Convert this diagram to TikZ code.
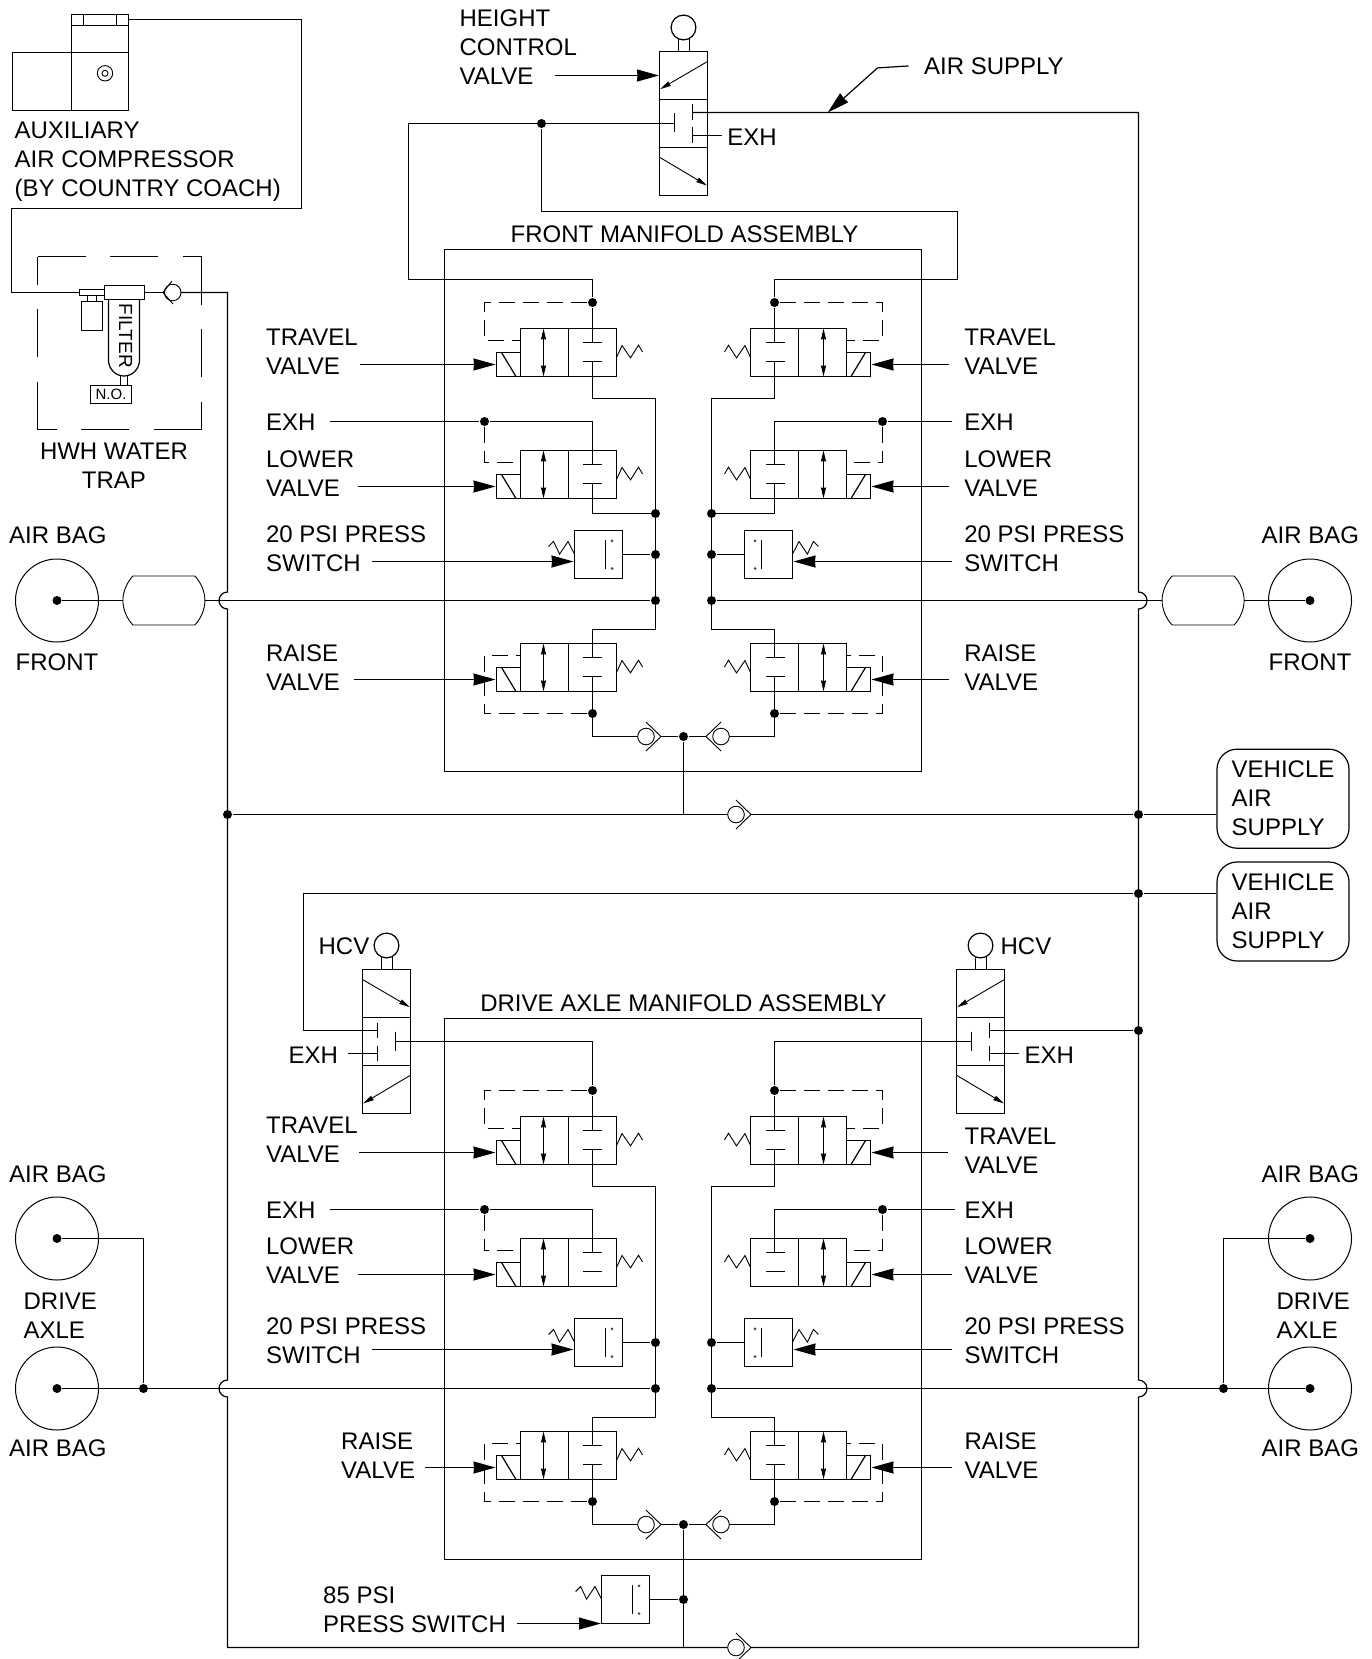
\documentclass[tikz,border=0pt]{standalone}
\usepackage{fontspec}
\setmainfont{Liberation Sans}
\usetikzlibrary{arrows.meta}

\tikzset{
	lbl/.style={font=\fontsize{24}{29}\selectfont, anchor=base west, inner sep=0pt, align=left},
	lblc/.style={lbl, anchor=base, align=center},
	jdot/.style={circle, fill=black, inner sep=0pt, minimum size=9pt},
	bagc/.style={circle, draw, line width=1pt, inner sep=0pt, minimum size=83pt},
	vbox/.style={draw, rounded corners=20pt, minimum width=132pt, minimum height=99pt, inner sep=0pt,
		font=\fontsize{24}{29}\selectfont, align=left},
	ctl/.style={-{Stealth[length=22pt,width=12pt,inset=0.5pt]}},
	dsh/.style={line width=1pt, dash pattern=on 16pt off 8pt},
	dshbox/.style={line width=1pt, dash pattern=on 48pt off 24.5pt},
	thn/.style={line width=0.9pt},
	dblarrow/.style={thn, {Stealth[length=11pt,width=5pt,inset=0.5pt]}-{Stealth[length=11pt,width=5pt,inset=0.5pt]}},
	sglarrow/.style={thn, -{Stealth[length=11pt,width=5pt,inset=0.5pt]}},
	% two cell air valve with solenoid, origin in the port cell
	valve/.pic={
		\draw (-24,-24) rectangle (24,24);
		\draw (-72,-24) rectangle (-24,24);
		\draw (-96,0) rectangle (-72,24);
		\draw[line width=1.8pt] (-24,-24) -- (-24,24);
		\draw (-91,0) -- (-76.5,24);
		\draw[dblarrow] (-49,-24) -- (-49,24);
		\draw (-10,-10) -- (9,-10);
		\draw (-10,9) -- (9,9);
		\draw[thn] (24,5) -- (29.5,-7) -- (38,5.4) -- (46,-7.3) -- (50,-0.6);
		\coordinate (-up) at (0,-10);
		\coordinate (-lo) at (0,9);
		\coordinate (-p) at (-72,-12);
		\coordinate (-a) at (-97,12);
	},
	pswitch/.pic={
		\draw (-24,-24) rectangle (24,24);
		\draw (7,-14.7) -- (7,14.6);
		\fill[black!70] (13.5,-13.7) circle (1.5pt) (13.5,14) circle (1.5pt);
		\draw[thn] (-49.9,-8) -- (-44.9,-13) -- (-38.9,-0.4) -- (-30.5,-13) -- (-24,-0.4);
		\coordinate (-e) at (24,0);
		\coordinate (-a) at (-25,7);
		\coordinate (-c) at (-24.6,24);
	},
	chkv/.pic={
		\draw[thn] (0,0) circle (8.3pt);
		\draw[thn] (0,-14.5) -- (15,0) -- (0,14.5);
		\coordinate (-in) at (-8.3,0);
		\coordinate (-out) at (15,0);
	},
	% height control valve, origin in the middle cell
	hcv/.pic={
		\draw (-24,-72) rectangle (24,72);
		\draw (-24,-24) -- (24,-24) (-24,24) -- (24,24);
		\draw (0,-96) circle (12.4pt);
		\draw[thn] (-5.5,-84.5) -- (-5.5,-72) (5.5,-84.5) -- (5.5,-72);
		\draw[sglarrow] (24,-62) -- (-23.5,-34.3);
		\draw[sglarrow] (-23.5,34) -- (23.5,62);
		\draw[thn] (-9,-10) -- (-9,9);
		\draw[thn] (9,-19) -- (9,-3.5) (9,4) -- (9,19.5);
		\draw[thn] (9,12) -- (38.4,12);
		\coordinate (-pl) at (-9,0);
		\coordinate (-pr) at (9,-11);
		\coordinate (-a) at (-24.5,-48);
	},
	tank/.pic={
		\draw[thn] (-31,-24.5) -- (31,-24.5) .. controls (37,-18) and (41,-9) .. (41,0)
			.. controls (41,9) and (37,18) .. (31,24.5) -- (-31,24.5)
			.. controls (-37,18) and (-41,9) .. (-41,0) .. controls (-41,-9) and (-37,-18) .. (-31,-24.5);
		\coordinate (-w) at (-41,0);
		\coordinate (-e) at (41,0);
	},
}

% one half of a manifold, drawn for the left side, #2 goes to its pics
\newcommand{\halfmf}[2]{
	\pic[#2] (#1t) at (592.5,352.5) {valve};
	\pic[#2] (#1l) at (592.5,474.5) {valve};
	\pic[#2] (#1r) at (592.5,667.5) {valve};
	\pic[#2] (#1s) at (598.5,554.5) {pswitch};
	\pic[#2] (#1c) at (646,736.5) {chkv};
	\node[jdot] (#1d1) at (592.5,302.5) {};
	\node[jdot] (#1d2) at (484.5,421.5) {};
	\node[jdot] (#1d3) at (655.5,554.5) {};
	\node[jdot] (#1d4) at (655.5,600.5) {};
	\node[jdot] (#1d5) at (592.5,713.5) {};
	\coordinate (#1tp) at (592.5,279.5);
	\coordinate (#1j) at (655.5,513.5);
	\draw[dsh] (#1d1) -- (484.5,302.5) |- (#1t-p);
	\draw[dsh] (#1d2) |- (#1l-p);
	\draw[dsh] (#1d5) -- (484.5,713.5) |- (#1r-p);
	\draw (#1d1) -- (#1t-up);
	\draw (#1d2) -| (#1l-up);
	\draw (#1t-lo) |- (655.5,398.5) -- (655.5,629.5) -| (#1r-up);
	\draw (#1r-lo) |- (#1c-in);
	\draw (#1s-e) -- (#1d3);
}

% whole manifold, #1 is its tag, #2 the shift
\newcommand{\mnfold}[2]{
	\begin{scope}[yshift=#2]
		\halfmf{#1l}{}
		\node[jdot] (#1tee) at (683.5,736.5) {};
	\end{scope}
	\begin{scope}[yshift=#2, shift={(1367,0)}, xscale=-1]
		\halfmf{#1r}{xscale=-1}
	\end{scope}
	\draw (#1lc-out) -- (#1tee);
	\draw (#1tee) -- (#1rc-out);
}

\begin{document}
\begin{tikzpicture}[x=1pt, y=-1pt, line width=1.2pt]
	\useasboundingbox (0,0) rectangle (1372,1659);

	% auxiliary compressor
	\draw (71.5,14.5) rectangle (128.5,110.5);
	\draw (71.5,25.5) -- (128.5,25.5) (83.5,14.5) -- (83.5,25.5) (116.5,14.5) -- (116.5,25.5);
	\draw (12.5,52.5) rectangle (71.5,110.5);
	\draw (71.5,52.5) -- (128.5,52.5);
	\draw[thn] (105,73.3) circle (7.7pt) (105,73.3) circle (3pt);
	\coordinate (cmpout) at (128.5,19.5);
	\node[lbl] (auxc) at (14,196) {AUXILIARY\\AIR COMPRESSOR\\(BY COUNTRY COACH)};

	% water trap
	\draw[dshbox] (37.5,429.5) -- (37.5,256.5);
	\draw[dshbox] (37.5,256.5) -- (201.5,256.5);
	\draw[dshbox] (201.5,256.5) -- (201.5,429.5);
	\draw[dshbox] (201.5,429.5) -- (37.5,429.5);
	\draw (79.5,289.5) rectangle (104.5,295.5);
	\draw (87.5,295.5) rectangle (96.5,301.5);
	\draw (81.5,301.5) rectangle (102.5,330.5);
	\draw (104.5,285.5) rectangle (144.5,299.5);
	\draw (108.5,299.5) -- (108.5,360) arc[start angle=180,end angle=360,x radius=15.5pt,y radius=16pt] -- (139.5,299.5);
	\draw[thn] (120.5,376) -- (120.5,385.5) (127.5,376) -- (127.5,385.5);
	\node[draw, thn, minimum width=40.6pt, minimum height=17.6pt, inner sep=0pt, font=\fontsize{15}{15}\selectfont] (nopen) at (111,394.5) {N.O.};
	\node[font=\fontsize{19}{19}\selectfont, rotate=-90, inner sep=0pt] (filt) at (125.7,335.7) {FILTER};
	\node[lblc] (hwh) at (114,488.6) {HWH WATER\\TRAP};
	\coordinate (regin) at (79.5,292.5);
	\coordinate (filout) at (144.5,292.5);
	\coordinate (trapin) at (163,292.5);
	\coordinate (trapout) at (181,292.5);
	\draw[thn] (172.7,292.5) circle (8.3pt);
	\draw[thn] (172,281) -- (trapin) -- (173,304);
	\draw (cmpout) -- (301.5,19.5) -- (301.5,208.5) -- (11.5,208.5) -- (11.5,292.5) -- (regin);
	\draw (filout) -- (trapin);

	% height control valves
	\pic (hf) at (683.5,123.5) {hcv};
	\pic[xscale=-1] (hl) at (386.5,1041.5) {hcv};
	\pic (hr) at (980.5,1041.5) {hcv};
	\node[lbl] (hgt) at (459,84.6) {HEIGHT\\CONTROL\\VALVE};
	\coordinate (hgtst) at (554.5,75.5);
	\draw[ctl] (hgtst) -- (hf-a);
	\node[lbl] (exht) at (726.7,145.4) {EXH};
	\node[lbl] (airsup) at (923.5,74.2) {AIR SUPPLY};
	\coordinate (airtip) at (827.7,112.5);
	\draw[ctl] (airsup.west) ++(-15,0) -- ++(-31,2) -- (airtip);
	\node[lbl] (hcvl) at (318,954.6) {HCV};
	\node[lbl] (hcvr) at (1000,954.6) {HCV};
	\node[lbl] (exhl) at (288,1063.6) {EXH};
	\node[lbl] (exhr) at (1024,1063.6) {EXH};

	% manifolds
	\draw (444.5,249.5) rectangle (921.5,771.5);
	\node[lblc] (fman) at (684.5,242.4) {FRONT MANIFOLD ASSEMBLY};
	\mnfold{f}{0pt}
	\draw (444.5,1018.5) rectangle (921.5,1559.5);
	\node[lblc] (dman) at (683.5,1011.6) {DRIVE AXLE MANIFOLD ASSEMBLY};
	\mnfold{d}{-788pt}

	% lower valve drains, front only
	\foreach \s in {fl,fr} {
		\node[jdot] at (\s j) {};
		\draw (\s l-lo) |- (\s j);
	}

	% piping above the front manifold
	\node[jdot] (dhf) at (541.5,123.5) {};
	\draw (hf-pl) -| (408.5,279.5) -- (fltp) -- (fld1);
	\draw (dhf) |- (957.5,211.5) |- (frtp) -- (frd1);
	\draw (hl-pl) -| (dld1);
	\draw (hr-pl) -| (drd1);

	% main lines
	\node[jdot] (jfl) at (227.5,814.5) {};
	\node[jdot] (jfr) at (1138.5,814.5) {};
	\node[jdot] (jtop) at (1138.5,893.5) {};
	\node[jdot] (jhr) at (1138.5,1030.5) {};
	\pic (cf) at (736,814.5) {chkv};
	\pic (cb) at (736,1647.5) {chkv};
	\draw (trapout) -- (227.5,292.5) -- (227.5,592) arc[start angle=90,end angle=270,radius=8.5pt]
		-- (227.5,1380) arc[start angle=90,end angle=270,radius=8.5pt] -- (227.5,1647.5) -- (cb-in);
	\draw (hf-pr) -| (1138.5,592) arc[start angle=90,end angle=-90,radius=8.5pt]
		-- (1138.5,1380) arc[start angle=90,end angle=-90,radius=8.5pt] -- (1138.5,1647.5) -- (cb-out);
	\draw (jfl) -- (cf-in);
	\draw (cf-out) -- (jfr);
	\draw (ftee) -- (683.5,814.5);
	\draw (dtee) -- (683.5,1647.5);
	\draw (hr-pr) -- (jhr);

	\node[vbox] (vas1) at (1283,798.7) {VEHICLE\\AIR\\SUPPLY};
	\node[vbox] (vas2) at (1283,911.5) {VEHICLE\\AIR\\SUPPLY};
	\draw (jfr) -- (vas1.west |- jfr);
	\draw (hl-pr) -| (303.5,893.5) -- (jtop);
	\draw (jtop) -- (vas2.west |- jtop);

	% 85 psi switch
	\pic (ps85) at (625.5,1599.5) {pswitch};
	\node[jdot] (j85) at (683.5,1599.5) {};
	\draw (ps85-e) -- (j85);
	\coordinate (st85) at (517,1623.5);
	\draw[ctl] (st85) -- (ps85-c);
	\node[lbl] (psi85) at (322.6,1632.6) {85 PSI\\PRESS SWITCH};

	% front air bags
	\node[bagc] (cfl) at (57,600.5) {};
	\node[bagc] (cfr) at (1310,600.5) {};
	\node[jdot] (bfl) at (57,600.5) {};
	\node[jdot] (bfr) at (1310,600.5) {};
	\pic (tfl) at (163.9,600.5) {tank};
	\pic (tfr) at (1203.1,600.5) {tank};
	\draw (bfl) -- (tfl-w);
	\draw (tfl-e) -- (fld4);
	\draw (frd4) -- (tfr-w);
	\draw (tfr-e) -- (bfr);
	\node[lbl] (abfl) at (8.5,543.6) {AIR BAG};
	\node[lbl] (abfr) at (1261,543.6) {AIR BAG};
	\node[lbl] (fntl) at (15,670.6) {FRONT};
	\node[lbl] (fntr) at (1268,670.6) {FRONT};

	% drive axle air bags
	\foreach \n/\xc/\yc in {dlu/57/1238.5,dls2/57/1388.5,dru/1310/1238.5,drs2/1310/1388.5} {
		\node[bagc] (c\n) at (\xc,\yc) {};
		\node[jdot] (b\n) at (\xc,\yc) {};
	}
	\node[jdot] (jdl) at (143.5,1388.5) {};
	\node[jdot] (jdr) at (1223.5,1388.5) {};
	\draw (bdlu) -| (jdl);
	\draw (bdru) -| (jdr);
	\draw (bdls2) -- (dld4);
	\draw (drd4) -- (bdrs2);
	\node[lbl] (abdl1) at (8.5,1182.6) {AIR BAG};
	\node[lbl] (abdr1) at (1261,1182.6) {AIR BAG};
	\node[lbl] (axl) at (23,1338.6) {DRIVE\\AXLE};
	\node[lbl] (axr) at (1276,1338.6) {DRIVE\\AXLE};
	\node[lbl] (abdl2) at (8.5,1456.6) {AIR BAG};
	\node[lbl] (abdr2) at (1261,1456.6) {AIR BAG};

	% valve signal arrows
	\foreach \v/\xs in {flt/360,fll/358,fls/372,flr/354,frt/949,frl/949,frs/952,frr/949,
			dlt/359,dll/358,dls/372,dlr/425,drt/948,drl/952,drs/952,drr/952}
		\draw[ctl] (\xs,0 |- \v-a) -- (\v-a);
	\foreach \v/\xs in {fld2/330,frd2/952,dld2/330,drd2/955}
		\draw (\xs,0 |- \v) -- (\v);

	% front manifold labels
	\node[lbl] (lbftl) at (265.5,374) {TRAVEL\\VALVE};
	\node[lbl] (lbfel) at (265.5,430.6) {EXH};
	\node[lbl] (lbfll) at (265.5,496.6) {LOWER\\VALVE};
	\node[lbl] (lbfsl) at (265.5,571) {20 PSI PRESS\\SWITCH};
	\node[lbl] (lbfrl) at (265.5,690.6) {RAISE\\VALVE};
	\node[lbl] (lbftr) at (963.7,374) {TRAVEL\\VALVE};
	\node[lbl] (lbfer) at (963.7,430.6) {EXH};
	\node[lbl] (lbflr) at (963.7,496.6) {LOWER\\VALVE};
	\node[lbl] (lbfsr) at (963.7,571) {20 PSI PRESS\\SWITCH};
	\node[lbl] (lbfrr) at (963.7,690.6) {RAISE\\VALVE};

	% drive manifold labels
	\node[lbl] (lbdtl) at (265.5,1162.5) {TRAVEL\\VALVE};
	\node[lbl] (lbdel) at (265.5,1218.6) {EXH};
	\node[lbl] (lbdll) at (265.5,1283.6) {LOWER\\VALVE};
	\node[lbl] (lbdsl) at (265.5,1363.6) {20 PSI PRESS\\SWITCH};
	\node[lbl] (lbdrl) at (340.6,1478.6) {RAISE\\VALVE};
	\node[lbl] (lbdtr) at (964,1173.6) {TRAVEL\\VALVE};
	\node[lbl] (lbder) at (964,1218.6) {EXH};
	\node[lbl] (lbdlr) at (964,1283.6) {LOWER\\VALVE};
	\node[lbl] (lbdsr) at (964,1363.6) {20 PSI PRESS\\SWITCH};
	\node[lbl] (lbdrr) at (964,1478.6) {RAISE\\VALVE};
\end{tikzpicture}
\end{document}
